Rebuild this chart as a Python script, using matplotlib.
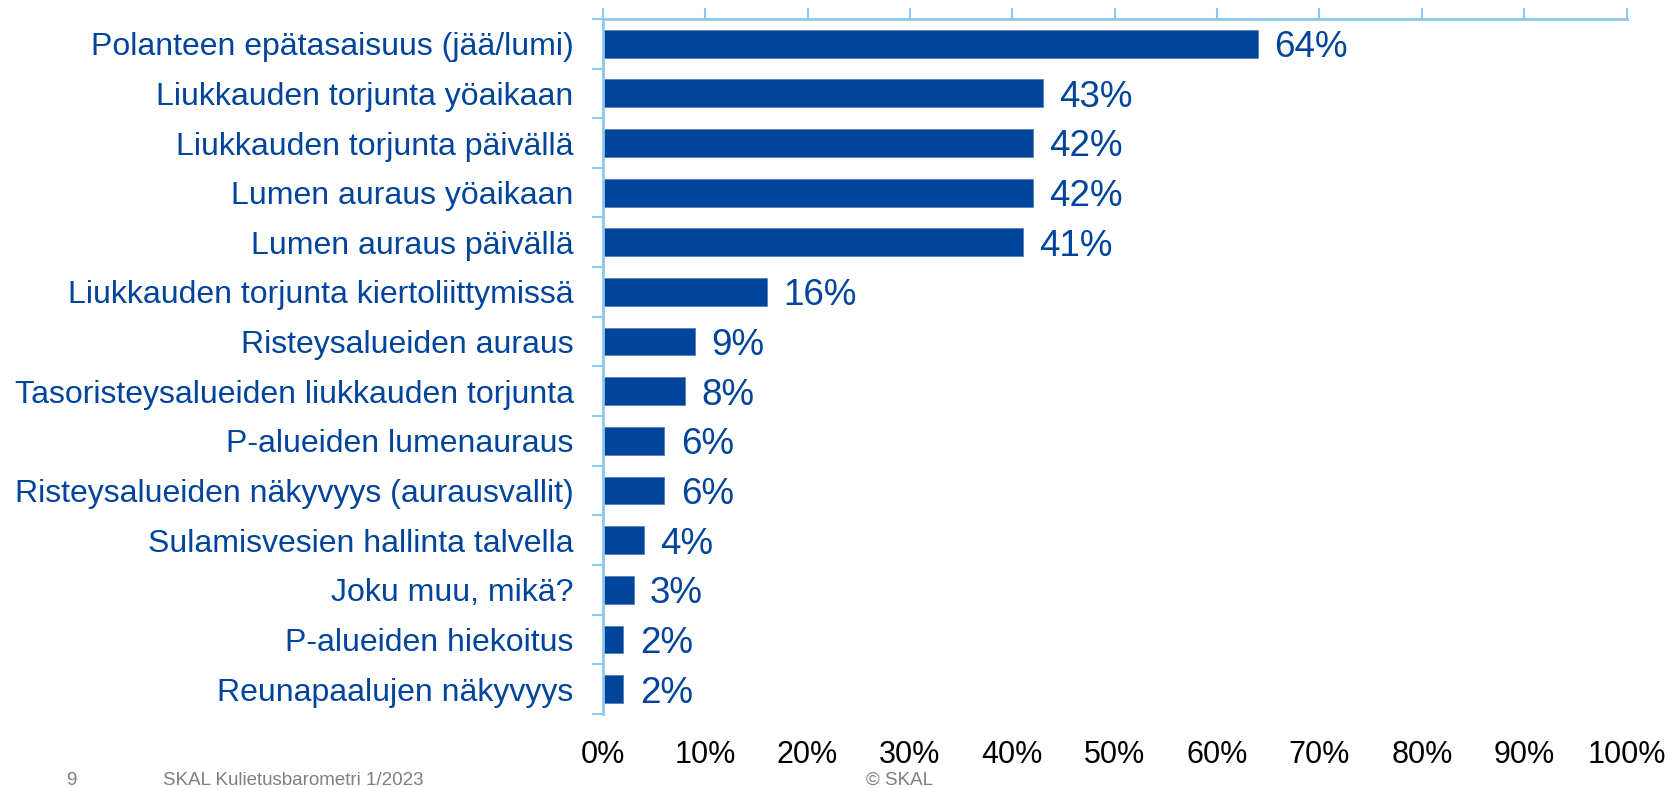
import matplotlib.pyplot as plt
import numpy as np

# categories, top to bottom
categories = [
    "Polanteen epätasaisuus (jää/lumi)",
    "Liukkauden torjunta yöaikaan",
    "Liukkauden torjunta päivällä",
    "Lumen auraus yöaikaan",
    "Lumen auraus päivällä",
    "Liukkauden torjunta kiertoliittymissä",
    "Risteysalueiden auraus",
    "Tasoristeysalueiden liukkauden torjunta",
    "P-alueiden lumenauraus",
    "Risteysalueiden näkyvyys (aurausvallit)",
    "Sulamisvesien hallinta talvella",
    "Joku muu, mikä?",
    "P-alueiden hiekoitus",
    "Reunapaalujen näkyvyys",
]
values = [64, 43, 42, 42, 41, 16, 9, 8, 6, 6, 4, 3, 2, 2]
xticks = [0, 10, 20, 30, 40, 50, 60, 70, 80, 90, 100]

blue = '#00449B'
light = '#8DC8EE'

plt.rcParams['font.family'] = ['Liberation Sans', 'DejaVu Sans']

fig = plt.figure(figsize=(16.7, 7.88), dpi=100)
ax = fig.add_axes([0.361, 0.094, 0.613, 0.882])

y = np.arange(len(categories))
ax.barh(y, values, height=0.56, color=blue, edgecolor='#5B7FC0', linewidth=0.6)

for yi, v in zip(y, values):
    ax.text(v + 1.6, yi + 0.08, "{}%".format(v), va='center', ha='left',
            fontsize=26.5, color=blue)

ax.set_xlim(0, 100)
ax.set_ylim(len(categories) - 0.5, -0.5)

ax.set_xticks(xticks)
ax.set_xticklabels(["{}%".format(t) for t in xticks], fontsize=22, color='black')
ax.tick_params(axis='x', top=True, bottom=False, labeltop=False, labelbottom=True,
               direction='out', length=8, width=1.5, color=light, pad=11)

ax.set_yticks(y)
ax.set_yticklabels(categories, fontsize=23, color=blue)
ax.tick_params(axis='y', which='major', length=0, pad=21)
ax.set_yticks(np.arange(-0.5, len(categories), 1), minor=True)
ax.tick_params(axis='y', which='minor', length=8, width=1.5, color=light, direction='out')

for s in ['right', 'bottom']:
    ax.spines[s].set_visible(False)
for s in ['top', 'left']:
    ax.spines[s].set_color(light)
    ax.spines[s].set_linewidth(2)

# footer
fy = 1 - 785 / 788
fig.text(66 / 1670, fy, "9", fontsize=13.5, color='#7F7F7F', va='baseline')
fig.text(163 / 1670, fy, "SKAL Kulietusbarometri 1/2023", fontsize=13.5,
         color='#7F7F7F', va='baseline')
fig.text(900 / 1670, fy, "© SKAL", fontsize=13.5, color='#7F7F7F',
         va='baseline', ha='center')

fig.savefig('out.png', dpi=100)
